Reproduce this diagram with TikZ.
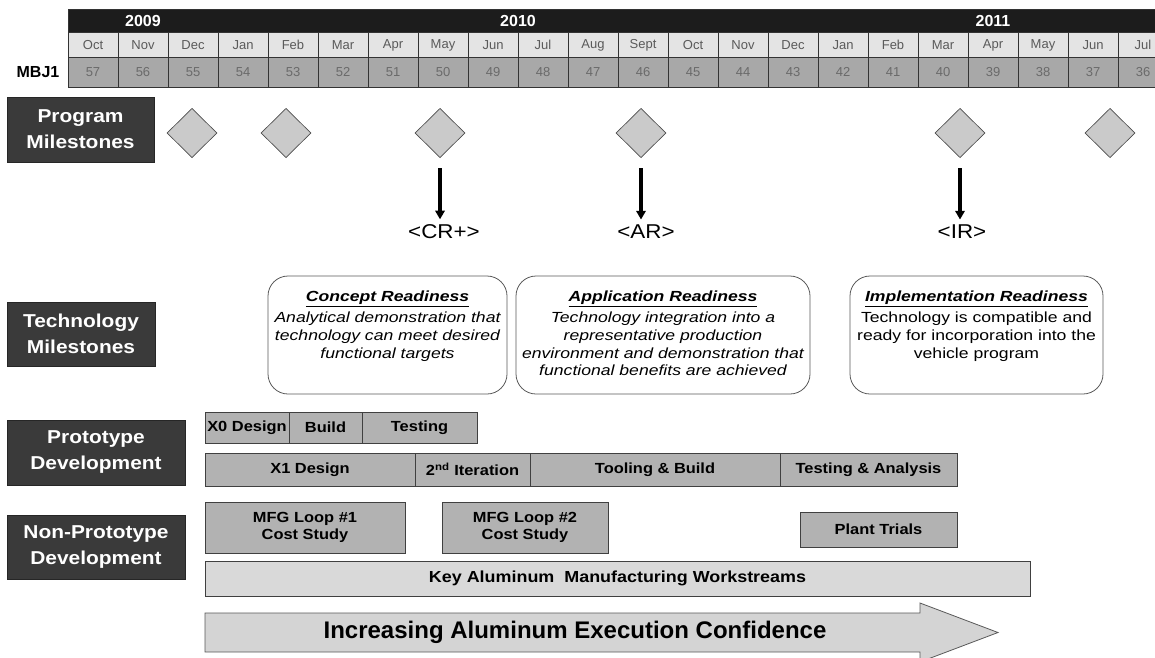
\documentclass[tikz,border=0pt]{standalone}
\usepackage{fontspec}
\setmainfont{Liberation Sans}
\newfontfamily\wfont[FakeStretch=1.12]{Liberation Sans}
\newfontfamily\bxfont[FakeStretch=1.2]{Liberation Sans}
\usetikzlibrary{shapes.geometric,arrows.meta}
\definecolor{labfill}{HTML}{3A3A3A}
\definecolor{yearfill}{HTML}{1C1C1C}
\definecolor{monfill}{HTML}{E4E4E4}
\definecolor{numfill}{HTML}{A8A8A8}
\definecolor{barfill}{HTML}{B2B2B2}
\definecolor{keyfill}{HTML}{D9D9D9}
\definecolor{arrfill}{HTML}{D4D4D4}
\definecolor{diafill}{HTML}{CACACA}
\definecolor{montext}{HTML}{5A5A5A}
\definecolor{numtext}{HTML}{6A6A6A}
\begin{document}
\begin{tikzpicture}[x=0.75pt,y=-0.75pt,
  lab/.style={fill=labfill, draw=black!85, line width=0.5pt, text=white,
    font=\wfont\bfseries\fontsize{14}{19.5}\selectfont, align=center, inner sep=0pt},
  tbl/.style={draw=black!80, line width=0.6pt},
  mon/.style={text=montext, font=\fontsize{9.75}{11}\selectfont, inner sep=0pt},
  num/.style={text=numtext, font=\fontsize{9.75}{11}\selectfont, inner sep=0pt},
  yr/.style={text=white, font=\bfseries\fontsize{12}{14}\selectfont, inner sep=0pt},
  dia/.style={diamond, draw=black!70, fill=diafill, line width=0.5pt,
    minimum width=37.5pt, minimum height=37pt, inner sep=0pt},
  ms/.style={font=\wfont\fontsize{15}{18}\selectfont, inner sep=1pt},
  marr/.style={line width=2.5pt, -{Triangle[width=7pt,length=6.5pt]}, shorten <=7.5pt, shorten >=3pt},
  rbox/.style={draw=black!65, line width=0.6pt, rounded corners=15pt, inner sep=0pt},
  btxt/.style={font=\bxfont\itshape\fontsize{11}{13.4}\selectfont, align=center, inner sep=0pt},
  bar/.style={draw=black!75, fill=barfill, line width=0.6pt, inner sep=0pt,
    font=\wfont\bfseries\fontsize{11}{13}\selectfont, align=center},
  keybar/.style={bar, fill=keyfill, font=\wfont\bfseries\fontsize{12}{14}\selectfont}
]
\useasboundingbox (0,0) rectangle (1155,657);
\clip (0,0) rectangle (1155,657);

% ---------- header table ----------
\fill[yearfill] (68,9.5) rectangle (1156,32);
\fill[monfill] (68,32) rectangle (1156,57);
\fill[numfill] (68,57) rectangle (1156,87);
\draw[tbl] (1156,9.5) -- (68,9.5) -- (68,87) -- (1156,87);
\draw[tbl] (68,32) -- (1156,32);
\draw[tbl] (68,57) -- (1156,57);
\foreach \i in {1,...,21} \draw[tbl] ({68+50*\i},32) -- ({68+50*\i},87);
\node[yr] (y2009) at (143,21) {2009};
\node[yr] (y2010) at (518,21) {2010};
\node[yr] (y2011) at (993,21) {2011};
\foreach \m [count=\i from 0] in {Oct,Nov,Dec,Jan,Feb,Mar,Apr,May,Jun,Jul,Aug,Sept,Oct,Nov,Dec,Jan,Feb,Mar,Apr,May,Jun,Jul}{
  \pgfmathtruncatemacro\nn{57-\i}
  \node[mon] (mon\i) at ({93+50*\i},45) {\m};
  \node[num] (num\i) at ({93+50*\i},72) {\nn};
}
\node[font=\bfseries\fontsize{12}{14}\selectfont, inner sep=0pt] (mbj) at (38,72) {MBJ1};

% ---------- left labels ----------
\node[lab, minimum width=110.25pt, minimum height=48.75pt] (lprog) at (80.5,129.5) {Program\\Milestones};
\node[lab, minimum width=111pt, minimum height=48pt] (ltech) at (81,334) {Technology\\Milestones};
\node[lab, minimum width=133.5pt, minimum height=48.75pt] (lproto) at (96,452.5) {Prototype\\Development};
\node[lab, minimum width=133.5pt, minimum height=48pt] (lnon) at (96,547) {Non-Prototype\\Development};

% ---------- program milestones ----------
\node[dia] (d1) at (192,133) {};
\node[dia] (d2) at (286,133) {};
\node[dia] (d3) at (440,133) {};
\node[dia] (d4) at (641,133) {};
\node[dia] (d5) at (960,133) {};
\node[dia] (d6) at (1110,133) {};
\node[ms] (cr) at (444,232) {<CR+>};
\node[ms] (ar) at (646,232) {<AR>};
\node[ms] (ir) at (962,232) {<IR>};
\draw[marr] (d3.south) -- (d3.south |- cr.north);
\draw[marr] (d4.south) -- (d4.south |- ar.north);
\draw[marr] (d5.south) -- (d5.south |- ir.north);

% ---------- technology milestones ----------
\node[rbox, minimum width=179.25pt, minimum height=88.5pt] (cbox) at (387.5,335) {};
\node[rbox, minimum width=220.5pt, minimum height=88.5pt] (abox) at (663,335) {};
\node[rbox, minimum width=189.75pt, minimum height=88.5pt] (ibox) at (976.5,335) {};
\node[btxt, anchor=north] (ctxt) at ([yshift=-11pt]cbox.north)
  {\underline{\bfseries Concept Readiness}\\[2.5pt]Analytical demonstration that\\technology can meet desired\\functional targets};
\node[btxt, anchor=north] (atxt) at ([yshift=-11pt]abox.north)
  {\underline{\bfseries Application Readiness}\\[2.5pt]Technology integration into a\\representative production\\environment and demonstration that\\functional benefits are achieved};
\node[btxt, anchor=north] (itxt) at ([yshift=-11pt]ibox.north)
  {\underline{\bfseries Implementation Readiness}\\[2.5pt]\upshape Technology is compatible and\\\upshape ready for incorporation into the\\\upshape vehicle program};

% ---------- prototype development ----------
\node[bar, minimum width=63pt, minimum height=23.25pt] (x0) at (247,427.5) {X0 Design};
\node[bar, minimum width=54.75pt, minimum height=23.25pt] (build) at (325.5,427.5) {Build};
\node[bar, minimum width=86.25pt, minimum height=23.25pt] (test) at (419.5,427.5) {Testing};
\node[bar, minimum width=157.5pt, minimum height=24.75pt] (x1) at (310,469.5) {X1 Design};
\node[bar, minimum width=86.25pt, minimum height=24.75pt] (iter) at (472.5,469.5) {2\textsuperscript{nd} Iteration};
\node[bar, minimum width=187.5pt, minimum height=24.75pt] (tool) at (655,469.5) {Tooling \& Build};
\node[bar, minimum width=132.75pt, minimum height=24.75pt] (tana) at (868.5,469.5) {Testing \& Analysis};

% ---------- non-prototype development ----------
\node[bar, minimum width=150pt, minimum height=38.25pt] (mfg1) at (305,527.5) {MFG Loop \#1\\Cost Study};
\node[bar, minimum width=124.5pt, minimum height=38.25pt] (mfg2) at (525,527.5) {MFG Loop \#2\\Cost Study};
\node[bar, minimum width=117.75pt, minimum height=26.25pt] (plant) at (878.5,529.5) {Plant Trials};
\node[keybar, minimum width=618.75pt, minimum height=26.25pt] (key) at (617.5,578.5) {Key Aluminum~ Manufacturing Workstreams};

% ---------- confidence arrow ----------
\draw[draw=black!65, fill=arrfill, line width=0.6pt]
  (205,613) -- (920,613) -- (920,603) -- (998,632.5) -- (920,662) -- (920,652) -- (205,652) -- cycle;
\node[font=\bfseries\fontsize{18}{21}\selectfont, inner sep=0pt] (conf) at (575,632.5) {Increasing Aluminum Execution Confidence};
\end{tikzpicture}
\end{document}
